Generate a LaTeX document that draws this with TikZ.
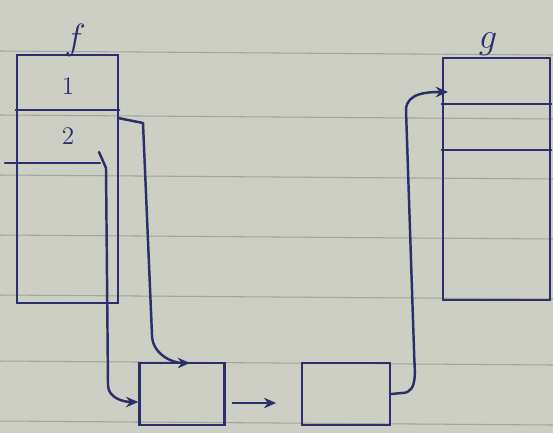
\documentclass[tikz,border=0pt]{standalone}
\usepackage{tikz}
\usetikzlibrary{arrows.meta,positioning,calc}
\definecolor{ink}{HTML}{2B2F6B}
\definecolor{paper}{HTML}{CDCEC4}
\definecolor{rule}{HTML}{A3A59F}

\begin{document}
\begin{tikzpicture}[x=0.02cm, y=-0.02cm,
    frame/.style={draw=ink, line width=1.4pt, minimum width=2.02cm, inner sep=0pt},
    cell/.style={draw=ink, line width=1.4pt, minimum width=1.7cm, minimum height=1.24cm, inner sep=0pt},
    lbl/.style={text=ink, font=\Large},
    pen/.style={ink, line width=1.4pt, line cap=round, line join=round},
    arr/.style={pen, -{Stealth[length=7pt, width=6pt]}}
]
% paper
\fill[paper] (0,0) rectangle (553,433);
\useasboundingbox (0,0) rectangle (553,433);
\foreach \y in {53,117,177,237,297,363,423}
    \draw[rule, line width=0.6pt] (0,\y-2) -- (553,\y+2);

% stack frames
\node[frame, minimum height=4.96cm] (fbox) at (67.5,179) {};
\node[frame, minimum width=2.14cm, minimum height=4.84cm] (gbox) at (496.5,179) {};
\node[lbl, font=\huge] (fname) at (75,40) {$f$};
\node[lbl, font=\huge] (gname) at (488,44) {$g$};

\draw[pen] (fbox.west |- 0,110) -- (fbox.east |- 0,110);
\draw[pen] (5,163) -- (100,163);
\node[lbl] (one) at (68,86) {1};
\node[lbl] (two) at (68,136) {2};

\draw[pen] (gbox.west |- 0,104) -- (gbox.east |- 0,104);
\draw[pen] (gbox.west |- 0,150) -- (gbox.east |- 0,150);

% heap objects
\node[cell] (objA) at (182,394) {};
\node[cell, minimum width=1.76cm] (objB) at (346,394) {};

\coordinate (fout) at (118,118);
\coordinate (fin) at (99,152);
\coordinate (ain) at (190,363);
\coordinate (gin) at (448,92);

\draw[arr, shorten <=4pt, shorten >=14pt] ([yshift=-0.18cm]objA.east) -- ([yshift=-0.18cm]objB.west);
\draw[arr] (fout) -- (143,123) -- (152,335) to[out=-90,in=180] (ain);
\draw[arr] (fin) -- (106,168) -- (108,385) to[out=-90,in=180] ([yshift=-0.16cm]objA.west);
\draw[arr] (objB.east) -- (402,393) to[out=0,in=-90] (414,350) -- (406,110) to[out=90,in=180] (gin);
\end{tikzpicture}
\end{document}
